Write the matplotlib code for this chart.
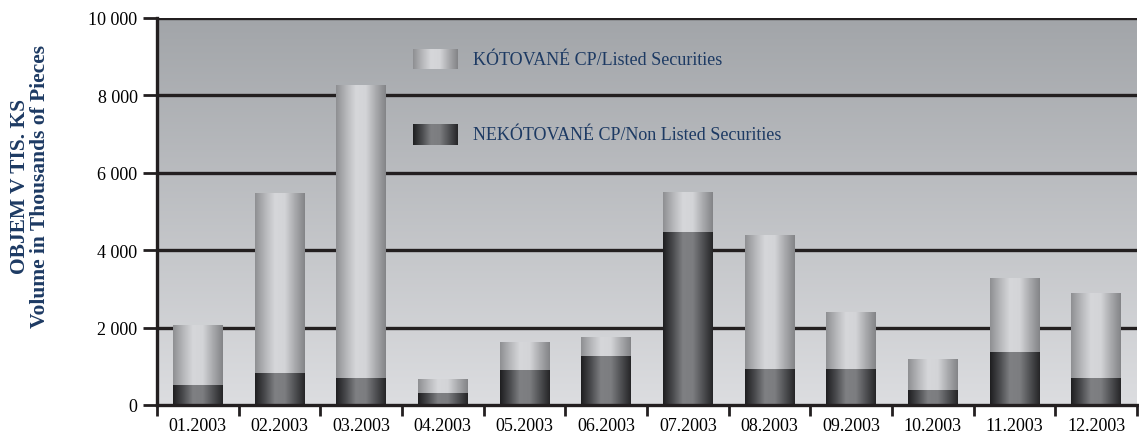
import numpy as np
import matplotlib.pyplot as plt
from matplotlib.colors import LinearSegmentedColormap

plt.rcParams['font.family'] = ['Liberation Serif', 'DejaVu Serif']

months = ["01.2003", "02.2003", "03.2003", "04.2003", "05.2003", "06.2003",
          "07.2003", "08.2003", "09.2003", "10.2003", "11.2003", "12.2003"]
non_listed = [520, 830, 700, 310, 900, 1270, 4470, 930, 930, 390, 1370, 700]
totals = [2050, 5480, 8270, 650, 1600, 1760, 5480, 4370, 2400, 1190, 3260, 2890]
listed = [t - n for t, n in zip(totals, non_listed)]

label_listed = "KÓTOVANÉ CP/Listed Securities"
label_non = "NEKÓTOVANÉ CP/Non Listed Securities"
navy = "#1d3a63"
ink = "#231f20"

# horizontal "cylinder" shading for bars
light_cmap = LinearSegmentedColormap.from_list(
    "light", ["#8e8f92", "#b5b6b9", "#d6d7da", "#d3d4d7", "#a9aaad", "#838487"])
dark_cmap = LinearSegmentedColormap.from_list(
    "dark", ["#1e1e20", "#4a4b4e", "#7f8083", "#7c7d80", "#505154", "#252527"])
bg_cmap = LinearSegmentedColormap.from_list("bg", ["#a2a5a9", "#dcdde0"])
grad = np.linspace(0, 1, 256).reshape(1, -1)

fig = plt.figure(figsize=(11.39, 4.39), dpi=100)
ax = fig.add_axes([157 / 1139, 1 - 406 / 439, 980 / 1139, 387 / 439])

x = np.arange(len(months))
ax.set_xlim(-0.5, len(months) - 0.5)
ax.set_ylim(0, 10000)

# background gradient (top dark -> bottom light)
ax.imshow(np.linspace(0, 1, 256).reshape(-1, 1), cmap=bg_cmap, aspect="auto",
          extent=(-0.5, len(months) - 0.5, 0, 10000), zorder=0)

for yv in range(2000, 10001, 2000):
    ax.axhline(yv, color=ink, lw=2.4, zorder=1)

bars_non = ax.bar(x, non_listed, width=0.61, color="none", zorder=2)
bars_lst = ax.bar(x, listed, width=0.61, bottom=non_listed, color="none", zorder=2)

for bars, cmap in ((bars_non, dark_cmap), (bars_lst, light_cmap)):
    for p in bars:
        x0, y0 = p.get_x(), p.get_y()
        ax.imshow(grad, cmap=cmap, aspect="auto", zorder=3,
                  extent=(x0, x0 + p.get_width(), y0, y0 + p.get_height()))

ax.set_xlim(-0.5, len(months) - 0.5)
ax.set_ylim(0, 10000)

# legend swatches
for yy, cmap, txt in ((0.894, light_cmap, label_listed), (0.698, dark_cmap, label_non)):
    sw = ax.inset_axes([256 / 980, yy - 0.027, 45 / 980, 0.054])
    sw.imshow(grad, cmap=cmap, aspect="auto")
    sw.set_axis_off()
    ax.text(316 / 980, yy, txt, transform=ax.transAxes, va="center", ha="left",
            fontsize=13, color=navy, zorder=5)

ax.set_yticks(range(0, 10001, 2000))
ax.set_yticklabels(["0", "2 000", "4 000", "6 000", "8 000", "10 000"], fontsize=13)
ax.set_xticks(x)
ax.set_xticklabels(months, fontsize=13)
ax.set_xticks(np.arange(-0.5, len(months)), minor=True)
ax.tick_params(axis="x", which="major", length=0, pad=9)
ax.tick_params(axis="x", which="minor", length=8, width=2, color=ink, direction="out")
ax.tick_params(axis="y", length=10, width=2, color=ink, direction="out", pad=4)

for s in ("top", "right"):
    ax.spines[s].set_visible(False)
for s in ("left", "bottom"):
    ax.spines[s].set_linewidth(2.4)
    ax.spines[s].set_color(ink)
    ax.spines[s].set_zorder(6)

fig.text(30 / 1139, 1 - 186 / 439, "OBJEM V TIS. KS\nVolume in Thousands of Pieces",
         rotation=90, ha="center", va="center", fontsize=15.5, fontweight="bold",
         color=navy, linespacing=1.0)

fig.savefig("out.png", dpi=100)
